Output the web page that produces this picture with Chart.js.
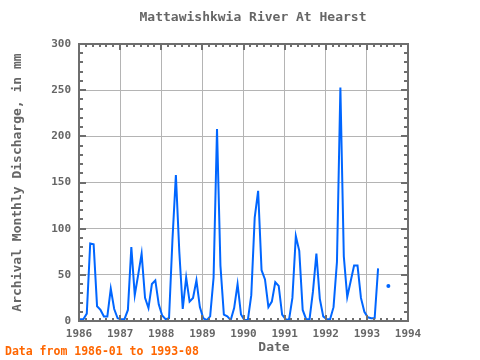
<!DOCTYPE html>
<html><head><meta charset="utf-8">
<script src="https://cdn.jsdelivr.net/npm/chart.js@4/dist/chart.umd.min.js"></script>
<style>html,body{margin:0;padding:0;background:#fff}canvas{display:block}</style>
</head><body>
<canvas id="c" width="480" height="360"></canvas>
<script>
const chartTitle = 'Mattawishkwia River At Hearst';
const yTitle = 'Archival Monthly Discharge, in mm';
const xTitle = 'Date';
const note = 'Data from 1986-01 to 1993-08';
const years = [1986, 1987, 1988, 1989, 1990, 1991, 1992, 1993];
const xTickYears = [1986, 1987, 1988, 1989, 1990, 1991, 1992, 1993, 1994];
const yTickValues = [0, 50, 100, 150, 200, 250, 300];
// monthly discharge (mm), Jan..Dec
const d1986 = [2, 2, 2, 8, 84, 83, 16, 12, 5, 5, 35, 13];
const d1987 = [3, 2, 2, 12, 80, 28, 50, 73, 25, 14, 40, 44];
const d1988 = [18, 6, 2, 3, 88, 158, 75, 13, 47, 21, 25, 44];
const d1989 = [15, 3, 1, 5, 47, 208, 60, 7, 5, 1, 14, 40];
const d1990 = [7, 1, 1, 28, 112, 141, 55, 45, 15, 21, 42, 38];
const d1991 = [7, 2, 1, 25, 92, 76, 12, 2, 2, 32, 73, 24];
const d1992 = [5, 2, 2, 15, 64, 253, 70, 26, 43, 60, 60, 25];
const d1993 = [10, 4, 3, 3, 57, null, null, 38];
const series = [d1986, d1987, d1988, d1989, d1990, d1991, d1992, d1993];
const monthShift = -0.73; // plotting position of a month inside its year

const points = [];
series.forEach((arr, yi) => arr.forEach((v, mi) => {
  points.push({ x: years[yi] + (mi + monthShift) / 12, y: v });
}));

const lineColor = '#0066ff';
const frameColor = '#6e6e6e';
const gridColor = '#b4b4b4';
const textColor = '#666666';
const mono = "'DejaVu Sans Mono', monospace";

const framePlugin = {
  id: 'frame',
  afterDraw(chart) {
    const { ctx, chartArea: a, scales: { x, y } } = chart;
    ctx.save();
    ctx.strokeStyle = frameColor;
    ctx.lineWidth = 2;
    ctx.strokeRect(a.left, a.top, a.right - a.left, a.bottom - a.top);
    for (let v = 0; v <= 300; v += 10) {
      const py = Math.round(y.getPixelForValue(v));
      const len = v % 50 === 0 ? 7 : 4;
      ctx.beginPath();
      ctx.moveTo(a.left, py); ctx.lineTo(a.left + len, py);
      ctx.moveTo(a.right, py); ctx.lineTo(a.right - len, py);
      ctx.stroke();
    }
    for (let k = 0; k <= 48; k++) {
      const px = Math.round(x.getPixelForValue(1986 + k / 6));
      const len = k % 6 === 0 ? 6 : 3;
      ctx.beginPath();
      ctx.moveTo(px, a.top); ctx.lineTo(px, a.top + len);
      ctx.moveTo(px, a.bottom); ctx.lineTo(px, a.bottom - len);
      ctx.stroke();
    }
    ctx.fillStyle = textColor;
    ctx.textAlign = 'center';
    ctx.textBaseline = 'middle';
    ctx.font = 'bold 13px ' + mono;
    ctx.fillText(chartTitle, 253, 18);
    ctx.font = 'bold 13px ' + mono;
    ctx.fillText(xTitle, 274, 348);
    ctx.save();
    ctx.translate(18, (a.top + a.bottom) / 2);
    ctx.rotate(-Math.PI / 2);
    ctx.font = 'bold 13px ' + mono;
    ctx.fillText(yTitle, 0, 0);
    ctx.restore();
    ctx.fillStyle = '#ff6600';
    ctx.textAlign = 'left';
    ctx.font = 'bold 11.5px ' + mono;
    ctx.fillText(note, 5, 352);
    ctx.restore();
  }
};

new Chart(document.getElementById('c'), {
  type: 'line',
  data: {
    datasets: [{
      data: points,
      borderColor: lineColor,
      backgroundColor: lineColor,
      borderWidth: 2,
      tension: 0,
      spanGaps: false,
      clip: 0,
      pointBorderWidth: 0,
      pointRadius: (c) => {
        const i = c.dataIndex, d = c.dataset.data;
        if (d[i] == null || d[i].y == null) return 0;
        const prev = i > 0 ? d[i - 1].y : null, next = i < d.length - 1 ? d[i + 1].y : null;
        return (prev == null && next == null) ? 2 : 0;
      }
    }]
  },
  options: {
    responsive: false,
    animation: false,
    devicePixelRatio: 1,
    layout: { padding: { top: 44, right: 72, left: 0, bottom: 0 } },
    plugins: { legend: { display: false }, tooltip: { enabled: false }, title: { display: false } },
    scales: {
      x: {
        type: 'linear', min: 1986, max: 1994,
        afterFit: (s) => { s.height = 39; },
        afterBuildTicks: (s) => { s.ticks = xTickYears.map(v => ({ value: v })); },
        ticks: { callback: (v) => String(v), color: textColor, font: { family: mono, size: 11, weight: 'bold' }, padding: 7, maxRotation: 0, autoSkip: false },
        grid: { color: gridColor, lineWidth: 1, drawTicks: false },
        border: { display: false }
      },
      y: {
        min: 0, max: 300,
        afterFit: (s) => { s.width = 79; },
        afterBuildTicks: (s) => { s.ticks = yTickValues.map(v => ({ value: v })); },
        ticks: { color: textColor, font: { family: mono, size: 11, weight: 'bold' }, padding: 8 },
        grid: { color: gridColor, lineWidth: 1, drawTicks: false },
        border: { display: false }
      }
    }
  },
  plugins: [framePlugin]
});
</script>
</body></html>
